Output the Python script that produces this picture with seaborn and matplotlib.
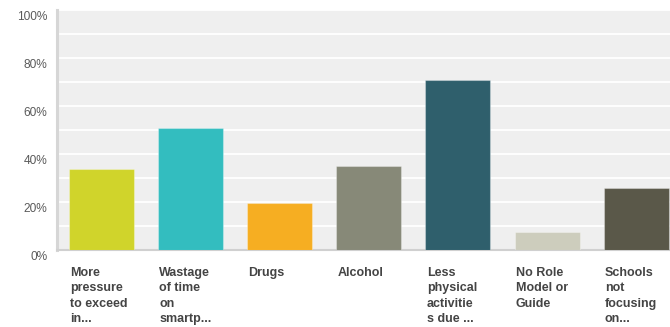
import pandas as pd
import matplotlib.pyplot as plt
import matplotlib.transforms as mtransforms
import seaborn as sns

# data
categories = ['More\npressure\nto exceed\nin...', 'Wastage\nof time\non\nsmartp...', 'Drugs',
              'Alcohol', 'Less\nphysical\nactivitie\ns due ...', 'No Role\nModel or\nGuide',
              'Schools\nnot\nfocusing\non...']
values = [33.6, 50.7, 19.7, 35.1, 70.7, 7.4, 25.7]
colors = ['#D0D42B', '#33BDBF', '#F6AE22', '#878978', '#2F5F6C', '#CDCDBD', '#5A5849']
y_ticks = [0, 20, 40, 60, 80, 100]
y_tick_labels = ['0%', '20%', '40%', '60%', '80%', '100%']

df = pd.DataFrame({'cat': categories, 'val': values})

sns.set_style('white')
plt.rcParams['font.family'] = ['Liberation Sans', 'DejaVu Sans']

fig = plt.figure(figsize=(6.7, 3.27), dpi=100)
ax = fig.add_axes([57 / 670, 77 / 327, 1 - 57 / 670, 240 / 327])
ax.set_facecolor('#EFEFEF')

sns.barplot(data=df, x='cat', y='val', hue='cat', palette=colors, legend=False,
            width=0.73, saturation=1, ax=ax, zorder=3,
            edgecolor=(1, 1, 1, 0.3), linewidth=0.8)

ax.set_ylim(0, 100)
ax.set_xlim(-0.5, 6.38)
ax.set_yticks(y_ticks)
ax.set_yticklabels(y_tick_labels, color='#5A5A5A', fontsize=8.6)
ax.set_yticks(range(0, 101, 10), minor=True)
ax.grid(axis='y', which='both', color='white', linewidth=1.3, zorder=0)
ax.tick_params(axis='y', which='both', length=0, pad=7)
ax.tick_params(axis='x', length=0)
ax.set_xticks(range(len(categories)))
ax.set_xticklabels([])
ax.set_xlabel('')
ax.set_ylabel('')

# y labels sit a bit below their gridlines
offset = mtransforms.ScaledTranslation(0, -6 / 100, fig.dpi_scale_trans)
for lab in ax.get_yticklabels():
    lab.set_transform(lab.get_transform() + offset)

for side in ['top', 'right']:
    ax.spines[side].set_visible(False)
ax.spines['left'].set_color('#D6D6D6')
ax.spines['left'].set_linewidth(2.2)
ax.spines['bottom'].set_color('#D0D0D0')
ax.spines['bottom'].set_linewidth(1.5)

# category labels, left aligned under each bar
trans = mtransforms.blended_transform_factory(ax.transData, ax.transAxes)
for i, name in enumerate(categories):
    ax.text(i - 0.35, -0.07, name, transform=trans, ha='left', va='top',
            fontsize=9, fontweight='bold', color='#444444', linespacing=1.38)

fig.savefig('out.png', dpi=100)
